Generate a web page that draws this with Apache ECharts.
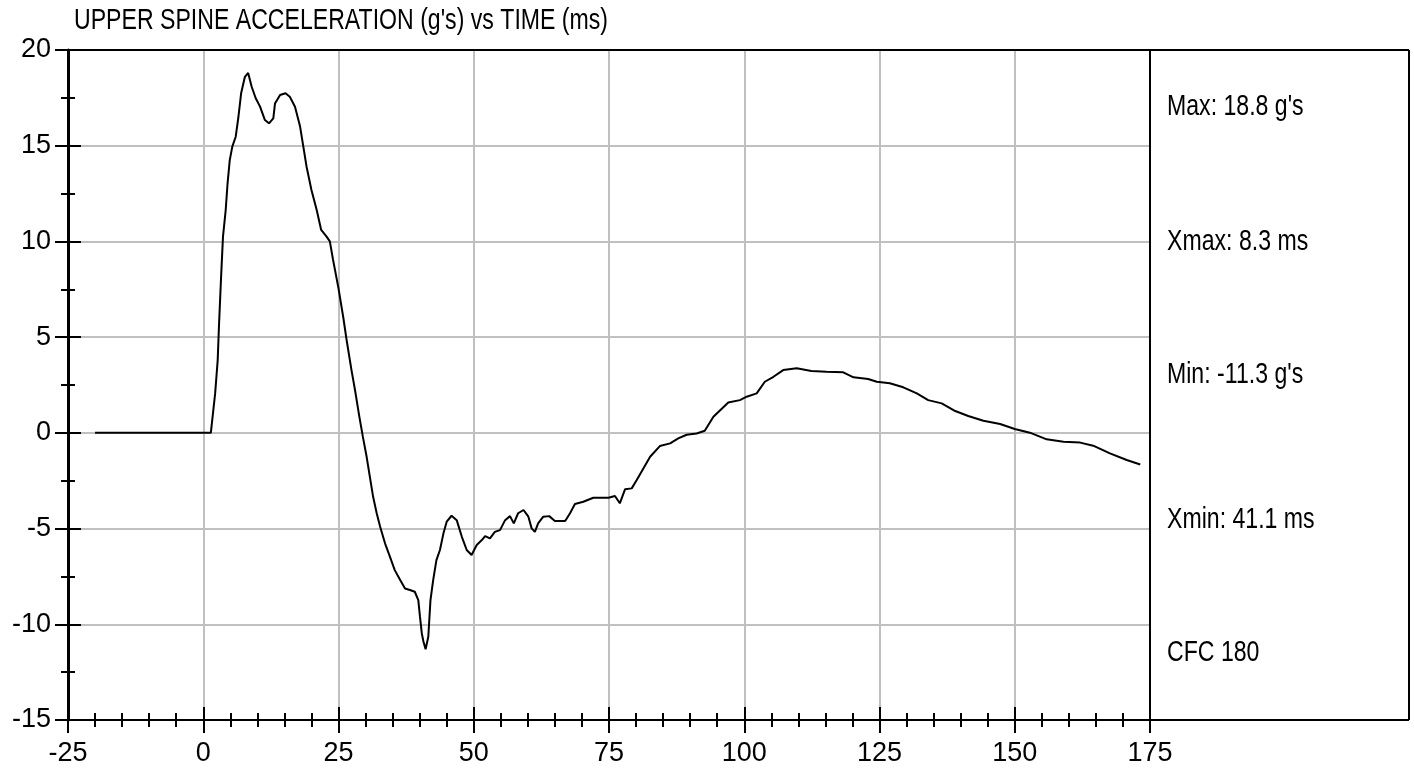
<!DOCTYPE html>
<html>
<head>
<meta charset="utf-8">
<script src="https://cdn.jsdelivr.net/npm/echarts@6/dist/echarts.min.js"></script>
<style>
html,body{margin:0;padding:0;background:#fff;}
#chart{width:1414px;height:769px;}
</style>
</head>
<body>
<div id="chart"></div>
<script>
// ---- data ----
const titleText = "UPPER SPINE ACCELERATION (g's) vs TIME (ms)";
const xTicks = [-25, 0, 25, 50, 75, 100, 125, 150, 175];
const yTicks = [-15, -10, -5, 0, 5, 10, 15, 20];
const panelLabels = ["Max: 18.8 g's", "Xmax: 8.3 ms", "Min: -11.3 g's", "Xmin: 41.1 ms", "CFC 180"];
const timeMs = [
  -20, 1.4, 2.2, 2.67, 2.9, 3.3, 3.65, 4.15, 4.5, 4.9, 5.37, 6.0, 6.5, 7.0, 7.7, 8.3,
  8.95, 9.7, 10.5, 11.4, 12.15, 12.95, 13.26, 14.2, 15.2, 16.0, 16.96, 17.9, 18.5, 19.1,
  20.0, 20.97, 21.8, 22.8, 23.4, 24.0, 25.0, 25.9, 26.5, 27.4, 28.05, 28.85, 29.5, 30.2,
  30.8, 31.4, 32.06, 32.7, 33.6, 34.5, 35.4, 36.4, 37.3, 38.2, 39.1, 39.75, 40.06, 40.4,
  40.7, 41.1, 41.6, 42.0, 42.5, 43.1, 43.75, 44.4, 45.0, 45.9, 46.85, 47.8, 48.7, 49.6,
  50.55, 51.5, 52.1, 53.0, 53.9, 54.85, 55.8, 56.7, 57.4, 58.2, 59.2, 60.1, 60.7, 61.3,
  61.9, 62.85, 63.95, 65.0, 66.9, 67.8, 68.7, 70.25, 72.1, 74.9, 76.1, 77.0, 77.96, 79.2,
  80.1, 81.35, 82.6, 84.4, 86.3, 87.8, 89.35, 91.2, 92.7, 94.3, 97.05, 99.2, 100.45, 102.3,
  103.8, 105.4, 107.2, 109.7, 112.4, 115.2, 118.3, 120.2, 122.9, 124.5, 126.9, 129.4, 131.9,
  134.0, 136.5, 139.0, 141.4, 144.2, 147.3, 150.0, 152.8, 155.9, 159.0, 162.1, 164.5, 167.6,
  170.7, 173.2
];
const accelG = [
  0, 0, 2.06, 3.8, 5.54, 8.16, 10.25, 11.64, 13.05, 14.25, 14.95, 15.47, 16.5, 17.74, 18.6, 18.8,
  18.08, 17.48, 17.04, 16.34, 16.17, 16.43, 17.2, 17.65, 17.74, 17.56, 17.04, 16.0, 14.95, 13.9,
  12.69, 11.64, 10.6, 10.25, 10.0, 9.03, 7.55, 6.0, 4.85, 3.28, 2.24, 0.85, -0.2, -1.25,
  -2.3, -3.34, -4.2, -4.9, -5.77, -6.47, -7.17, -7.69, -8.13, -8.21, -8.3, -8.74, -9.6, -10.48,
  -10.9, -11.3, -10.65, -8.74, -7.69, -6.65, -6.12, -5.25, -4.64, -4.33, -4.56, -5.43, -6.12, -6.38,
  -5.86, -5.6, -5.39, -5.51, -5.17, -5.08, -4.56, -4.35, -4.73, -4.2, -4.03, -4.38, -4.99, -5.17,
  -4.73, -4.38, -4.35, -4.6, -4.6, -4.2, -3.72, -3.6, -3.39, -3.39, -3.3, -3.68, -2.95, -2.9,
  -2.47, -1.86, -1.25, -0.69, -0.55, -0.29, -0.1, -0.03, 0.11, 0.84, 1.59, 1.71, 1.89, 2.06,
  2.67, 2.93, 3.28, 3.37, 3.23, 3.19, 3.16, 2.9, 2.81, 2.67, 2.59, 2.38, 2.06,
  1.71, 1.54, 1.14, 0.88, 0.63, 0.46, 0.2, 0.01, -0.34, -0.46, -0.51, -0.67, -1.07,
  -1.42, -1.65
];

// ---- layout ----
const G = {left: 68, top: 50, width: 1082, height: 670};
const panelRight = 1409;
const panelY = [107, 242, 375, 520, 653];

const narrowFamily = '"Liberation Sans", Arial, sans-serif';
const narrowScale = 0.77;
const narrowSize = 30;
const numFont = '"Liberation Sans", Arial, sans-serif';

const series = [{
  type: 'line',
  data: timeMs.map((t, i) => [t, accelG[i]]),
  symbol: 'none',
  lineStyle: {color: '#000', width: 2},
  animation: false,
  z: 5
}];

const xMin = xTicks[0], xMax = xTicks[xTicks.length - 1];
const yMin = yTicks[0], yMax = yTicks[yTicks.length - 1];

const axisCommonX = {type: 'value', min: xMin, max: xMax, interval: 25, position: 'bottom'};
const axisCommonY = {type: 'value', min: yMin, max: yMax, interval: 5, position: 'left'};

const graphics = [
  {type: 'line', shape: {x1: G.left, y1: G.top, x2: panelRight, y2: G.top}, style: {stroke: '#000', lineWidth: 2}, z: 10},
  {type: 'line', shape: {x1: G.left + G.width, y1: G.top, x2: G.left + G.width, y2: G.top + G.height}, style: {stroke: '#000', lineWidth: 2}, z: 10},
  {type: 'line', shape: {x1: panelRight, y1: G.top, x2: panelRight, y2: G.top + G.height}, style: {stroke: '#000', lineWidth: 2}, z: 10},
  {type: 'line', shape: {x1: G.left + G.width, y1: G.top + G.height, x2: panelRight, y2: G.top + G.height}, style: {stroke: '#000', lineWidth: 2}, z: 10},
  {type: 'text', x: 74, y: 21, scaleX: narrowScale, style: {text: titleText, font: narrowSize + 'px ' + narrowFamily, fill: '#000', textVerticalAlign: 'middle', verticalAlign: 'middle'}, z: 10}
];
panelLabels.forEach((s, i) => {
  graphics.push({type: 'text', x: 1167, y: panelY[i], scaleX: narrowScale,
    style: {text: s, font: narrowSize + 'px ' + narrowFamily, fill: '#000', textVerticalAlign: 'middle', verticalAlign: 'middle'}, z: 10});
});

const option = {
  animation: false,
  backgroundColor: '#fff',
  grid: {left: G.left, top: G.top, width: G.width, height: G.height, containLabel: false},
  xAxis: [
    Object.assign({}, axisCommonX, {
      axisLine: {show: true, onZero: false, lineStyle: {color: '#000', width: 2}},
      axisTick: {show: true, inside: false, length: 13, lineStyle: {color: '#000', width: 2}},
      minorTick: {show: true, splitNumber: 5, length: 7, lineStyle: {color: '#000', width: 2}},
      splitLine: {show: true, lineStyle: {color: '#c0c0c0', width: 2}},
      axisLabel: {show: true, margin: 20, color: '#000', fontFamily: numFont, fontSize: 27,
        formatter: v => String(v)}
    }),
    Object.assign({}, axisCommonX, {
      axisLine: {show: false, onZero: false},
      axisTick: {show: true, inside: true, length: 13, lineStyle: {color: '#000', width: 2}},
      minorTick: {show: true, splitNumber: 5, length: 7, lineStyle: {color: '#000', width: 2}},
      splitLine: {show: false},
      axisLabel: {show: false}
    })
  ],
  yAxis: [
    Object.assign({}, axisCommonY, {
      axisLine: {show: true, onZero: false, lineStyle: {color: '#000', width: 3}},
      axisTick: {show: true, inside: false, length: 13, lineStyle: {color: '#000', width: 2}},
      minorTick: {show: true, splitNumber: 2, length: 7, lineStyle: {color: '#000', width: 2}},
      splitLine: {show: true, lineStyle: {color: '#c0c0c0', width: 2}},
      axisLabel: {show: true, margin: 17, color: '#000', fontFamily: numFont, fontSize: 27,
        formatter: v => String(v)}
    }),
    Object.assign({}, axisCommonY, {
      axisLine: {show: false, onZero: false},
      axisTick: {show: true, inside: true, length: 13, lineStyle: {color: '#000', width: 2}},
      minorTick: {show: true, splitNumber: 2, length: 7, lineStyle: {color: '#000', width: 2}},
      splitLine: {show: false},
      axisLabel: {show: false}
    })
  ],
  series: series,
  graphic: graphics
};

const chart = echarts.init(document.getElementById('chart'), null, {renderer: 'canvas'});
chart.setOption(option);
</script>
</body>
</html>
